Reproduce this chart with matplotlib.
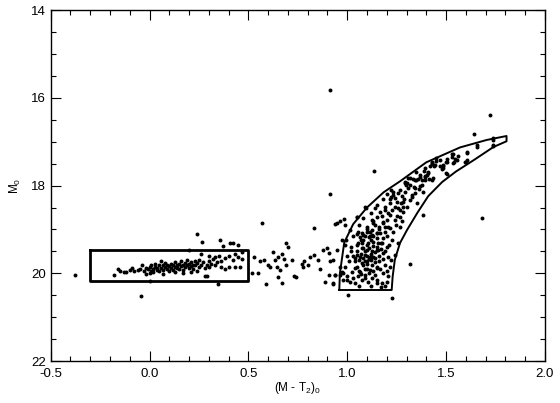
import matplotlib
matplotlib.use("Agg")
import matplotlib.pyplot as plt
from matplotlib.ticker import MultipleLocator

plt.rcParams['font.family'] = ['Liberation Sans', 'DejaVu Sans']
plt.rcParams['mathtext.fontset'] = 'custom'
plt.rcParams['mathtext.rm'] = 'Liberation Sans'
plt.rcParams['mathtext.it'] = 'Liberation Sans'

# horizontal branch stars
hb_x = [-0.18, -0.16, -0.15, -0.13, -0.12, -0.10, -0.09, -0.08, -0.06, -0.05, -0.04, -0.03,
        -0.02, -0.01, 0.00, 0.00, 0.01, 0.01, 0.02, 0.02, 0.03, 0.03, 0.04, 0.04, 0.05, 0.05,
        0.06, 0.06, 0.07, 0.07, 0.08, 0.08, 0.09, 0.09, 0.10, 0.10, 0.11, 0.11, 0.12, 0.12,
        0.13, 0.13, 0.14, 0.14, 0.15, 0.15, 0.16, 0.16, 0.17, 0.17, 0.18, 0.18, 0.19, 0.19,
        0.20, 0.20, 0.21, 0.21, 0.22, 0.22, 0.23, 0.23, 0.24, 0.24, 0.25, 0.25, 0.26, 0.27,
        0.28, 0.29, 0.30, 0.30, 0.31, 0.32, 0.33, 0.34, 0.35, 0.36, 0.38, 0.38, 0.40, 0.42,
        0.43, 0.45, 0.46, 0.47, 0.28, 0.00, 0.26, 0.30, 0.33, 0.36, 0.40, 0.43, 0.13, 0.17,
        0.07, -0.02, 0.21, 0.20, 0.37, 0.42, 0.45, 0.47, 0.29]
hb_y = [20.03, 19.90, 19.95, 19.98, 19.96, 19.93, 19.88, 19.95, 19.92, 19.90, 19.82, 19.95,
        19.88, 19.90, 19.85, 20.00, 19.95, 19.80, 19.90, 19.98, 19.85, 19.78, 19.92, 19.87,
        19.80, 19.95, 19.88, 19.72, 19.82, 19.93, 19.86, 19.76, 19.90, 19.80, 19.84, 19.95,
        19.78, 19.88, 19.82, 19.92, 19.85, 19.75, 19.88, 19.80, 19.90, 19.78, 19.84, 19.72,
        19.80, 19.92, 19.76, 19.86, 19.82, 19.70, 19.78, 19.88, 19.74, 19.84, 19.80, 19.90,
        19.72, 19.82, 19.77, 19.95, 19.85, 19.70, 19.80, 19.75, 19.88, 19.80, 19.72, 19.85,
        19.78, 19.68, 19.80, 19.75, 19.60, 19.72, 19.65, 19.90, 19.60, 19.70, 19.55, 19.62,
        19.85, 19.68, 20.05, 20.17, 19.55, 19.60, 19.62, 19.85, 19.85, 19.85, 19.98, 20.00,
        20.02, 20.02, 19.96, 19.47, 19.37, 19.31, 19.35, 19.52, 20.05]

# stars between the boxes
gap_x = [0.52, 0.55, 0.53, 0.56, 0.58, 0.57, 0.59, 0.60, 0.61, 0.625, 0.635, 0.65, 0.67,
         0.68, 0.645, 0.66, 0.65, 0.69, 0.70, 0.67, 0.72, 0.74, 0.77, 0.775, 0.73, 0.78,
         0.81, 0.83, 0.85, 0.88, 0.90, 0.91, 0.80, 0.86, 0.832, 0.89, 0.93, 0.93, 0.915,
         0.94, 0.965, 0.985, 0.95, 0.91, 0.94, 0.69]
gap_y = [20.00, 20.00, 19.63, 19.71, 19.69, 18.85, 20.25, 19.80, 19.86, 19.51, 19.70, 19.63,
         19.55, 19.67, 19.86, 19.93, 20.08, 19.82, 19.40, 20.21, 19.70, 20.08, 19.78, 19.86,
         20.05, 19.73, 19.62, 19.58, 19.69, 19.47, 19.43, 19.54, 19.81, 19.89, 18.97, 20.20,
         20.25, 19.70, 19.73, 18.87, 18.80, 18.76, 18.86, 20.04, 20.04, 19.32]

# red giant branch stars
rgb_x = [1.659, 1.74, 1.736, 1.605, 1.602, 1.558, 1.546, 1.538, 1.53, 1.507, 1.50, 1.487,
         1.47, 1.478, 1.45, 1.428, 1.42, 1.39, 1.395, 1.412, 1.43, 1.504, 1.36, 1.639,
         1.221, 1.233, 1.258, 1.275, 1.292, 1.297, 1.292, 1.309, 1.216, 1.25, 1.27, 1.287,
         1.241, 1.267, 1.28, 1.225, 1.208, 1.191, 1.174, 1.25, 1.275, 1.247, 1.20, 1.182,
         1.162, 1.216, 1.191, 1.149, 1.124, 1.132, 1.095, 1.115, 1.081, 1.064, 1.051,
         1.394, 1.427, 1.439, 1.486, 1.483, 1.50, 1.537, 1.596, 1.334, 1.368, 1.402, 1.393,
         1.376, 1.337, 1.364, 1.343, 1.326, 1.385,
         1.41, 1.435, 1.35, 1.38, 1.317, 1.343, 1.326, 1.368, 1.393, 1.503, 1.528, 1.537,
         1.47, 1.444, 1.554, 1.604, 1.604, 1.655, 1.739, 1.739,
         0.994, 1.017, 1.01, 0.989, 1.022, 0.972, 0.963, 0.997, 0.98, 1.014, 1.039, 1.056,
         1.073, 1.09, 1.106, 1.124, 1.149, 1.14, 1.064, 1.09, 1.115, 1.048, 1.073, 1.098,
         1.124, 1.149, 1.039, 1.064, 1.09, 1.115, 1.14, 1.048, 1.073, 1.098, 1.124, 1.149,
         1.056, 1.081, 1.106, 1.132, 1.157, 1.073, 1.098, 1.124, 1.149,
         1.20, 1.174, 1.149, 1.208, 1.182, 1.216, 1.191, 1.166, 1.241, 1.208, 1.182, 1.157,
         1.20, 1.174, 1.225, 1.20, 1.166, 1.233, 1.258, 1.267, 1.208, 1.182, 1.241, 1.267,
         1.216, 1.284, 1.258, 1.301, 1.317, 1.284, 0.963, 0.98, 0.997, 0.93, 0.938, 0.946,
         0.972, 0.989, 1.014, 1.031, 1.056, 1.073, 1.09, 1.115, 1.098, 1.124, 1.149, 1.14,
         1.166, 1.191, 1.216, 1.241, 1.14, 1.09, 1.048, 1.233, 1.267, 1.301, 1.309, 1.343,
         1.368, 1.41, 1.427,
         1.03, 1.04, 1.05, 1.06, 1.07, 1.08, 1.09, 1.10, 1.11, 1.12, 1.13, 1.14, 1.15, 1.16,
         1.17, 1.18, 1.19, 1.10, 1.12, 1.15, 1.17, 1.08, 1.10, 1.12, 1.14, 1.16, 1.06, 1.04,
         1.03, 1.07, 1.09, 1.11, 1.13, 1.00, 1.02, 0.99, 1.05, 1.07, 1.11, 1.13, 1.16, 1.18,
         1.19, 1.21, 1.22, 1.20, 1.06, 1.12, 1.17, 1.19, 1.08, 1.10, 1.13, 1.15, 1.11, 1.09,
         1.06, 1.08, 1.12, 1.15, 1.18, 1.20, 1.22, 1.13, 1.10, 1.05, 1.29, 1.32, 1.35, 1.45]
rgb_y = [17.11, 17.09, 16.96, 17.25, 17.47, 17.33, 17.40, 17.47, 17.28, 17.40, 17.47, 17.55,
         17.55, 17.63, 17.44, 17.47, 17.55, 17.67, 17.78, 17.84, 17.88, 17.73, 17.86, 16.82,
         18.10, 18.21, 18.16, 18.24, 18.14, 17.99, 17.91, 18.06, 18.31, 18.37, 18.40, 18.31,
         18.48, 18.56, 18.48, 18.56, 18.63, 18.56, 18.69, 18.69, 18.80, 18.90, 18.78, 18.86,
         18.94, 18.97, 19.05, 19.09, 19.01, 18.86, 18.50, 19.15, 19.13, 19.18, 18.72,
         17.61, 17.51, 17.55, 17.53, 17.61, 17.72, 17.48, 17.46, 17.86, 17.81, 17.76, 17.87,
         17.99, 18.03, 18.08, 18.18, 18.25, 18.14,
         17.72, 17.83, 17.87, 17.87, 17.99, 18.06, 18.21, 18.02, 17.80, 17.46, 17.34, 17.27,
         17.42, 17.53, 17.42, 17.23, 17.42, 17.08, 16.92, 17.08,
         19.24, 19.50, 19.73, 19.85, 19.96, 19.96, 20.04, 20.07, 20.15, 20.19, 20.23, 20.07,
         20.15, 20.04, 20.19, 20.11, 20.23, 20.04, 19.96, 19.89, 19.92, 19.85, 19.77, 19.73,
         19.81, 19.85, 19.66, 19.62, 19.58, 19.62, 19.66, 19.50, 19.43, 19.47, 19.50, 19.47,
         19.31, 19.24, 19.31, 19.28, 19.31, 19.09, 19.05, 19.13, 19.09,
         20.19, 20.23, 20.15, 20.07, 20.00, 19.85, 19.81, 19.89, 19.58, 19.62, 19.54, 19.47,
         19.39, 19.31, 19.24, 19.16, 19.09, 19.05, 19.31, 18.94, 18.94, 18.82, 18.78, 18.71,
         18.67, 18.60, 18.52, 18.48, 18.33, 18.37, 19.85, 20.00, 20.15, 20.23, 20.04, 19.47,
         19.24, 18.90, 19.01, 19.16, 19.05, 19.31, 19.16, 19.05, 18.94, 18.78, 18.71, 18.90,
         18.60, 18.48, 18.40, 18.29, 18.52, 18.48, 18.71, 18.14, 18.10, 17.95, 17.83, 17.87,
         17.76, 17.68, 17.49,
         19.60, 19.72, 19.58, 19.70, 19.55, 19.65, 19.50, 19.60, 19.42, 19.55, 19.38, 19.52,
         19.40, 19.60, 19.45, 19.68, 19.50, 19.35, 19.25, 19.20, 19.30, 19.80, 19.90, 19.70,
         19.75, 19.72, 19.95, 19.88, 20.10, 20.02, 20.10, 20.00, 19.95, 19.60, 19.40, 19.35,
         19.35, 19.25, 19.18, 19.15, 19.00, 19.20, 18.95, 19.35, 19.70, 19.95, 20.30, 20.30,
         20.32, 20.28, 19.42, 19.78, 19.62, 19.88, 19.68, 19.72,
         18.90, 18.75, 18.62, 18.45, 18.30, 18.20, 18.25, 18.80, 19.00, 19.10, 17.95, 17.82,
         17.70, 17.38]

# field stars well away from the sequences
field_x = [0.915, 1.724, 0.912, 1.134, 1.684, -0.377, -0.042, 1.004, 1.229, 0.348, 0.24,
           0.268, 0.357, 1.32, 1.383, 1.354, 0.407]
field_y = [15.83, 16.38, 18.19, 17.67, 18.73, 20.03, 20.52, 20.49, 20.57, 20.24, 19.10,
           19.29, 19.24, 19.78, 18.68, 18.40, 19.31]

# selection boxes
hb_box_x = [-0.30, 0.50, 0.50, -0.30, -0.30]
hb_box_y = [19.47, 19.47, 20.18, 20.18, 19.47]
rgb_box_x = [0.96, 0.963, 0.985, 1.03, 1.10, 1.185, 1.268, 1.40, 1.571, 1.706, 1.806,
             1.806, 1.74, 1.64, 1.55, 1.48, 1.41, 1.355, 1.303, 1.267, 1.241, 1.23, 1.225,
             0.96]
rgb_box_y = [20.38, 20.00, 19.30, 18.88, 18.50, 18.15, 17.90, 17.47, 17.13, 16.96, 16.87,
             16.99, 17.12, 17.42, 17.68, 17.92, 18.24, 18.62, 19.01, 19.31, 19.69, 20.07,
             20.38, 20.38]

fig = plt.figure(figsize=(5.6, 4.03), dpi=100)
ax = fig.add_axes([0.0905, 0.104, 0.8825, 0.871])

for xs, ys in [(hb_x, hb_y), (gap_x, gap_y), (rgb_x, rgb_y), (field_x, field_y)]:
    ax.scatter(xs, ys, s=8, c='black', linewidths=0)

ax.plot(hb_box_x, hb_box_y, color='black', lw=2.0)
ax.plot(rgb_box_x, rgb_box_y, color='black', lw=1.4)

ax.set_xlim(-0.5, 2.0)
ax.set_ylim(22, 14)
ax.xaxis.set_major_locator(MultipleLocator(0.5))
ax.xaxis.set_minor_locator(MultipleLocator(0.1))
ax.yaxis.set_major_locator(MultipleLocator(2))
ax.yaxis.set_minor_locator(MultipleLocator(0.5))
ax.xaxis.set_major_formatter(plt.FormatStrFormatter('%.1f'))
ax.tick_params(which='both', direction='in', top=True, right=True, labelsize=9.5, width=0.8)
ax.tick_params(which='major', length=7)
ax.tick_params(which='minor', length=3.5)
ax.tick_params(axis='x', pad=5)
for sp in ax.spines.values():
    sp.set_linewidth(1.0)

ax.set_xlabel(r'(M - T$_2$)$_0$', fontsize=8.5, labelpad=0)
ax.set_ylabel(r'M$_0$', fontsize=8.5, labelpad=6)

fig.savefig('out.png', dpi=100)
